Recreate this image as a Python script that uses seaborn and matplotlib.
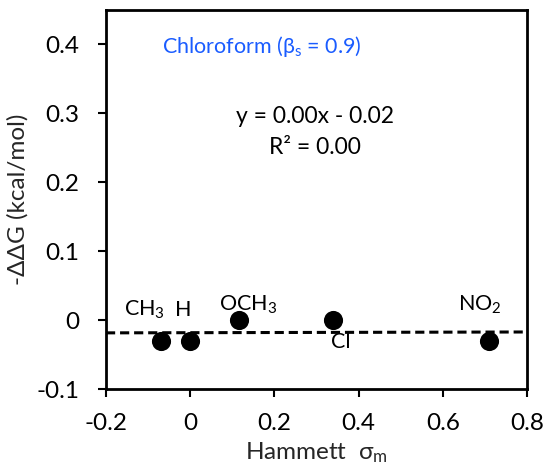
import numpy as np
import pandas as pd
import matplotlib
matplotlib.use("Agg")
import matplotlib.pyplot as plt
import seaborn as sns

# data
substituents = ["CH$_3$", "H", "OCH$_3$", "Cl", "NO$_2$"]
sigma_m = [-0.07, 0.0, 0.115, 0.34, 0.71]
neg_ddG = [-0.03, -0.03, 0.0, 0.0, -0.03]
x_ticks = [-0.2, 0, 0.2, 0.4, 0.6, 0.8]
y_ticks = [-0.1, 0, 0.1, 0.2, 0.3, 0.4]
x_ticklabels = ["-0.2", "0", "0.2", "0.4", "0.6", "0.8"]
y_ticklabels = ["-0.1", "0", "0.1", "0.2", "0.3", "0.4"]

sns.set_theme(style="ticks")
plt.rcParams["font.family"] = ["Lato", "DejaVu Sans"]
plt.rcParams["mathtext.fontset"] = "custom"
plt.rcParams["mathtext.rm"] = "Lato"
plt.rcParams["mathtext.it"] = "Lato"
plt.rcParams["mathtext.default"] = "regular"

df = pd.DataFrame({"sigma": sigma_m, "ddG": neg_ddG, "label": substituents})

fig = plt.figure(figsize=(5.46, 4.69), dpi=100)
ax = fig.add_axes([106 / 546, 1 - 389 / 469, (527 - 106) / 546, (389 - 10) / 469])

xlim = (-0.2, 0.8)
ylim = (-0.1, 0.45)

# trendline
slope, intercept = np.polyfit(df["sigma"], df["ddG"], 1)
xs = np.array(xlim)
ax.plot(xs, slope * xs + intercept, linestyle=(0, (3, 1.6)), color="black", lw=2.2, zorder=2)

sns.scatterplot(data=df, x="sigma", y="ddG", ax=ax, s=190, color="black",
                edgecolor="black", linewidth=0, zorder=3, legend=False)

# point labels (offsets in points)
offsets = {"CH$_3$": (-12, 22), "H": (-5, 22), "OCH$_3$": (7, 11), "Cl": (5, -16), "NO$_2$": (-7, 26)}
for lab, xv, yv in zip(substituents, sigma_m, neg_ddG):
    dx, dy = offsets[lab]
    ax.annotate(lab, (xv, yv), xytext=(dx, dy), textcoords="offset points",
                ha="center", va="center", fontsize=15.5, color="black")

ax.set_xlim(*xlim)
ax.set_ylim(*ylim)
ax.set_xticks(x_ticks)
ax.set_xticklabels(x_ticklabels)
ax.set_yticks(y_ticks)
ax.set_yticklabels(y_ticklabels)
ax.tick_params(axis="both", direction="out", length=6, width=1.5, labelsize=17.5, colors="black")
ax.tick_params(axis="x", pad=11)
ax.tick_params(axis="y", pad=13)
for sp in ax.spines.values():
    sp.set_visible(True)
    sp.set_linewidth(2)
    sp.set_color("black")

ax.set_xlabel("Hammett  σ$_m$", fontsize=17.5, labelpad=5)
ax.set_ylabel("-ΔΔG (kcal/mol)", fontsize=17.5, labelpad=6)

ax.text(0.37, 0.905, "Chloroform (β$_s$ = 0.9)", transform=ax.transAxes, ha="center", va="center",
        fontsize=15.5, color="#1a5cff")
ax.text(0.496, 0.72, "y = %.2fx - %.2f" % (abs(slope), abs(intercept)), transform=ax.transAxes,
        ha="center", va="center", fontsize=16.5, color="black")
ax.text(0.496, 0.638, "R² = 0.00", transform=ax.transAxes, ha="center", va="center",
        fontsize=16.5, color="black")

fig.savefig("out.png", dpi=100)
